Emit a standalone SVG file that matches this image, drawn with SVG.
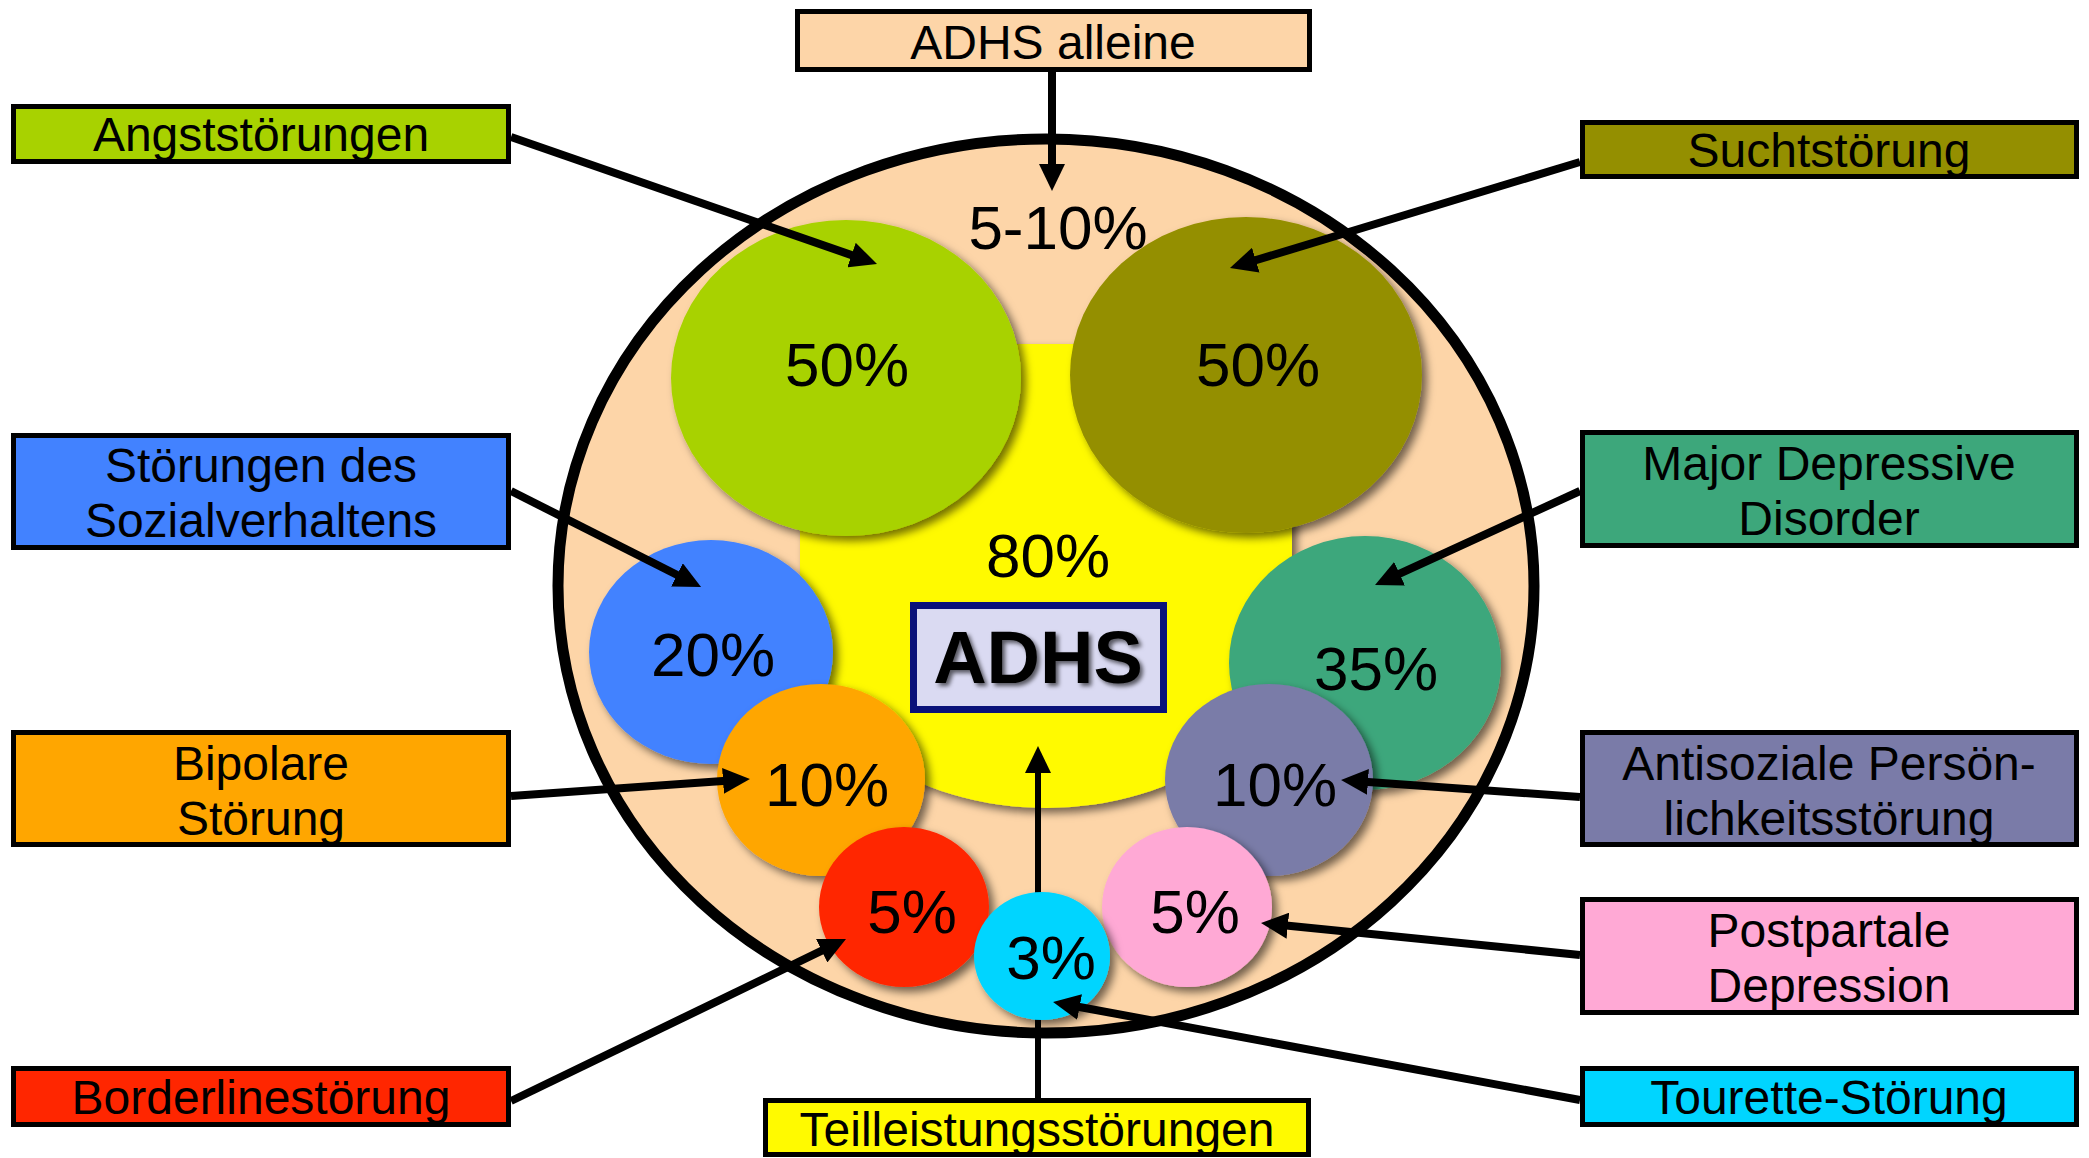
<svg xmlns="http://www.w3.org/2000/svg" width="2089" height="1158" viewBox="0 0 2089 1158">
<style>
.lbl{font-family:"Liberation Sans",Arial,sans-serif;font-size:48px;fill:#000;text-anchor:middle}
.pct{font-family:"Liberation Sans",Arial,sans-serif;font-size:62px;fill:#000;text-anchor:middle}
.box{stroke:#000;stroke-width:5}
.conn{stroke:#000;stroke-width:8;fill:none;marker-end:url(#ah)}
.sh{filter:url(#shadow)}
</style>
<defs>
<filter id="shadow" x="-20%" y="-20%" width="150%" height="150%">
<feDropShadow dx="5" dy="5" stdDeviation="4" flood-color="#000" flood-opacity="0.55"/>
</filter>
<filter id="tshadow" x="-20%" y="-20%" width="150%" height="150%">
<feDropShadow dx="3" dy="3" stdDeviation="2" flood-color="#000" flood-opacity="0.6"/>
</filter>
<marker id="ah" markerUnits="userSpaceOnUse" markerWidth="27" markerHeight="26" refX="7" refY="13" orient="auto" viewBox="0 0 27 26">
<path d="M0,0 L27,13 L0,26 Z" fill="#000"/>
</marker>
</defs>
<rect width="2089" height="1158" fill="#fff"/>

<g id="outer">
<ellipse cx="1046" cy="586" rx="488" ry="447" fill="#FDD5A8" stroke="#000" stroke-width="11"/>
<text class="pct" x="1058" y="249">5-10%</text>
</g>
<g id="adhs-core">
<path class="sh" d="M800,344 H1292 V628 A246,180 0 0 1 800,628 Z" fill="#FFFA00"/>
<text class="pct" x="1048" y="577">80%</text>
</g>
<g id="angst-ellipse"><ellipse class="sh" cx="846" cy="378" rx="175" ry="158" fill="#A8D200"/><text class="pct" x="847" y="386">50%</text></g>
<g id="sucht-ellipse"><ellipse class="sh" cx="1246" cy="375" rx="176" ry="158" fill="#948F00"/><text class="pct" x="1258" y="386">50%</text></g>
<g id="sozial-ellipse"><ellipse class="sh" cx="711" cy="652" rx="122" ry="112" fill="#4282FF"/><text class="pct" x="713" y="676">20%</text></g>
<g id="mdd-ellipse"><ellipse class="sh" cx="1365" cy="663" rx="136" ry="127" fill="#3DA77B"/><text class="pct" x="1376" y="690">35%</text></g>
<g id="bipolar-ellipse"><ellipse class="sh" cx="821" cy="780" rx="104" ry="96" fill="#FFA600"/><text class="pct" x="827" y="806">10%</text></g>
<g id="antisozial-ellipse"><ellipse class="sh" cx="1269" cy="780" rx="104" ry="96" fill="#7A7BA8"/><text class="pct" x="1275" y="806">10%</text></g>
<g id="borderline-ellipse"><ellipse class="sh" cx="904" cy="907" rx="85" ry="80" fill="#FF2600"/><text class="pct" x="912" y="933">5%</text></g>
<g id="postpartal-ellipse"><ellipse class="sh" cx="1187" cy="907" rx="85" ry="80" fill="#FFA9D5"/><text class="pct" x="1195" y="933">5%</text></g>

<g id="connectors-under">
<line class="conn" x1="1038" y1="1098" x2="1038" y2="766" style="stroke-width:6"/>
</g>

<g id="tourette-ellipse"><ellipse class="sh" cx="1042" cy="956" rx="68" ry="64" fill="#00D5FF"/><text class="pct" x="1051" y="979">3%</text></g>

<g id="adhs-box">
<rect x="913.5" y="605.5" width="250" height="104" fill="#DADAF2" stroke="#0A127A" stroke-width="7"/>
<text x="1038" y="683" font-family="'Liberation Sans',Arial,sans-serif" font-size="74" font-weight="bold" text-anchor="middle" fill="#000" filter="url(#tshadow)">ADHS</text>
</g>

<g id="connectors">
<line class="conn" x1="1052" y1="72" x2="1052" y2="171"/>
<line class="conn" x1="511" y1="137" x2="858.1" y2="257.4"/>
<line class="conn" x1="1580" y1="162" x2="1249.1" y2="262.2"/>
<line class="conn" x1="511" y1="491" x2="683.2" y2="578"/>
<line class="conn" x1="1580" y1="491" x2="1393.2" y2="576.7"/>
<line class="conn" x1="511" y1="796" x2="730" y2="780.4"/>
<line class="conn" x1="1580" y1="797" x2="1361" y2="781.4"/>
<line class="conn" x1="511" y1="1101" x2="828" y2="947.7"/>
<line class="conn" x1="1580" y1="955" x2="1280.9" y2="925"/>
<line class="conn" x1="1580" y1="1100" x2="1072.7" y2="1005.7"/>
</g>

<g id="adhs-alleine"><rect class="box" x="797.5" y="11.5" width="512" height="58" fill="#FDD5A8"/><text class="lbl" x="1053" y="59">ADHS alleine</text></g>
<g id="angst"><rect class="box" x="13.5" y="106.5" width="495" height="55" fill="#A8D200"/><text class="lbl" x="261" y="151">Angststörungen</text></g>
<g id="sozial"><rect class="box" x="13.5" y="435.5" width="495" height="112" fill="#4282FF"/><text class="lbl" x="261" y="482">Störungen des</text><text class="lbl" x="261" y="537">Sozialverhaltens</text></g>
<g id="bipolar"><rect class="box" x="13.5" y="732.5" width="495" height="112" fill="#FFA600"/><text class="lbl" x="261" y="780">Bipolare</text><text class="lbl" x="261" y="835">Störung</text></g>
<g id="borderline"><rect class="box" x="13.5" y="1068.5" width="495" height="56" fill="#FF2600"/><text class="lbl" x="261" y="1114">Borderlinestörung</text></g>
<g id="teilleistung"><rect class="box" x="765.5" y="1100.5" width="543" height="54" fill="#FFFA00"/><text class="lbl" x="1037" y="1146">Teilleistungsstörungen</text></g>
<g id="sucht"><rect class="box" x="1582.5" y="122.5" width="494" height="54" fill="#948F00"/><text class="lbl" x="1829" y="167">Suchtstörung</text></g>
<g id="mdd"><rect class="box" x="1582.5" y="432.5" width="494" height="113" fill="#3DA77B"/><text class="lbl" x="1829" y="480">Major Depressive</text><text class="lbl" x="1829" y="535">Disorder</text></g>
<g id="antisozial"><rect class="box" x="1582.5" y="732.5" width="494" height="112" fill="#7A7BA8"/><text class="lbl" x="1829" y="780">Antisoziale Persön-</text><text class="lbl" x="1829" y="835">lichkeitsstörung</text></g>
<g id="postpartal"><rect class="box" x="1582.5" y="899.5" width="494" height="113" fill="#FFA9D5"/><text class="lbl" x="1829" y="947">Postpartale</text><text class="lbl" x="1829" y="1002">Depression</text></g>
<g id="tourette"><rect class="box" x="1582.5" y="1068.5" width="494" height="56" fill="#00D5FF"/><text class="lbl" x="1829" y="1114">Tourette-Störung</text></g>
</svg>
